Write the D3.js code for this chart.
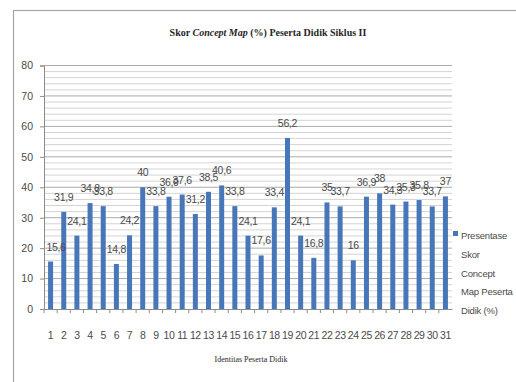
<!DOCTYPE html>
<html>
<head>
<meta charset="utf-8">
<script src="https://cdn.jsdelivr.net/npm/d3@7/dist/d3.min.js"></script>
<style>
  html, body { margin: 0; padding: 0; background: #fff; }
  svg { display: block; }
</style>
</head>
<body>
<svg id="chart" width="516" height="382"></svg>
<script>
// Concept map scores (%) per student, cycle II
const students = d3.range(1, 32).map(String);
const scores = [15.6, 31.9, 24.1, 34.8, 33.8, 14.8, 24.2, 40, 33.8, 36.9,
                37.6, 31.2, 38.5, 40.6, 33.8, 24.1, 17.6, 33.4, 56.2, 24.1,
                16.8, 35, 33.7, 16, 36.9, 38, 34.3, 35.3, 35.8, 33.7, 37];
const yTicks = [0, 10, 20, 30, 40, 50, 60, 70, 80];
const legendLines = ["Presentase", "Skor", "Concept", "Map Peserta", "Didik (%)"];

const svg = d3.select("#chart");
const sans = "'Liberation Sans', Arial, sans-serif";
const serif = "'Liberation Serif', 'Times New Roman', serif";
const barColor = "#4777b9";
const textColor = "#4a4a4a";

// outer chart frame
svg.append("rect")
  .attr("x", 13.5).attr("y", 10.5)
  .attr("width", 600).attr("height", 600)
  .attr("fill", "none").attr("stroke", "#a6a6a6").attr("stroke-width", 1.2);

const plot = { left: 44, right: 452, top: 65.5, bottom: 309 };

const x = d3.scaleBand().domain(students).range([plot.left, plot.right]).paddingInner(0.62).paddingOuter(0.31);
const y = d3.scaleLinear().domain([0, 80]).range([plot.bottom, plot.top]);

// minor and major gridlines
const g = svg.append("g");
g.selectAll("line.minor")
  .data(d3.range(2, 80, 2).filter(v => v % 10 !== 0))
  .join("line")
  .attr("x1", plot.left).attr("x2", plot.right)
  .attr("y1", d => y(d)).attr("y2", d => y(d))
  .attr("stroke", "#d4d4d4").attr("stroke-width", 1);
g.selectAll("line.major")
  .data(yTicks.filter(v => v > 0))
  .join("line")
  .attr("x1", plot.left).attr("x2", plot.right)
  .attr("y1", d => y(d)).attr("y2", d => y(d))
  .attr("stroke", "#ababab").attr("stroke-width", 1);

// bars
svg.append("g").selectAll("rect")
  .data(scores)
  .join("rect")
  .attr("x", (d, i) => x(students[i]))
  .attr("y", d => y(d))
  .attr("width", x.bandwidth())
  .attr("height", d => y(0) - y(d))
  .attr("fill", barColor);

// value labels, kept inside the plot area
svg.append("g").selectAll("text")
  .data(scores)
  .join("text")
  .attr("x", (d, i) => Math.max(plot.left + 12, x(students[i]) + x.bandwidth() / 2))
  .attr("y", d => y(d) - 11)
  .attr("text-anchor", "middle")
  .attr("font-family", sans).attr("font-size", 10.5)
  .attr("letter-spacing", -0.3)
  .attr("fill", textColor)
  .text(d => String(d).replace(".", ","));

// y axis
const yAxis = d3.axisLeft(y).tickValues(yTicks).tickSize(4).tickPadding(7);
const ya = svg.append("g").attr("transform", `translate(${plot.left},0)`).call(yAxis);
ya.select(".domain").attr("stroke", "#8c8c8c");
ya.selectAll(".tick line").attr("stroke", "#8c8c8c");
ya.selectAll(".tick text").attr("font-family", sans).attr("font-size", 10.5).attr("fill", textColor);

// x axis
const xAxis = d3.axisBottom(x).tickSize(0).tickPadding(23);
const xa = svg.append("g").attr("transform", `translate(0,${plot.bottom})`).call(xAxis);
xa.select(".domain").attr("stroke", "#8c8c8c");
xa.selectAll(".tick text").attr("font-family", sans).attr("font-size", 10.5)
  .attr("letter-spacing", -0.4).attr("fill", textColor);
// tick marks between categories
xa.selectAll("line.sep")
  .data(students)
  .join("line")
  .attr("class", "sep")
  .attr("x1", d => x(d) - x.step() * x.paddingInner() / 2)
  .attr("x2", d => x(d) - x.step() * x.paddingInner() / 2)
  .attr("y1", 0).attr("y2", 4)
  .attr("stroke", "#8c8c8c");

// title
const title = svg.append("text")
  .attr("x", 268).attr("y", 36)
  .attr("text-anchor", "middle")
  .attr("font-family", serif).attr("font-size", 10).attr("font-weight", "bold")
  .attr("fill", "#262626");
title.append("tspan").text("Skor ");
title.append("tspan").attr("font-style", "italic").text("Concept Map");
title.append("tspan").text(" (%) Peserta Didik Siklus II");

// x axis title
svg.append("text")
  .attr("x", 251).attr("y", 362)
  .attr("text-anchor", "middle")
  .attr("font-family", serif).attr("font-size", 8)
  .attr("fill", "#262626")
  .text("Identitas Peserta Didik");

// legend
const lg = svg.append("g");
lg.append("rect")
  .attr("x", 453).attr("y", 231)
  .attr("width", 5).attr("height", 5)
  .attr("fill", barColor);
lg.selectAll("text")
  .data(legendLines)
  .join("text")
  .attr("x", 461)
  .attr("y", (d, i) => 239 + i * 18.8)
  .attr("font-family", sans).attr("font-size", 9.5)
  .attr("letter-spacing", -0.2)
  .attr("fill", textColor)
  .text(d => d);
</script>
</body>
</html>
